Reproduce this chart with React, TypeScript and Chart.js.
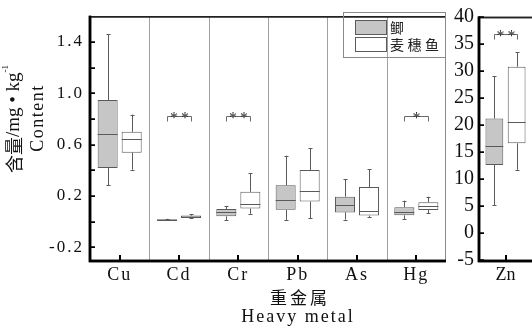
import React, { useEffect, useRef } from "react";
import { Chart, registerables } from "chart.js";

Chart.register(...registerables);

// ---------- data ----------
const metals = ["Cu", "Cd", "Cr", "Pb", "As", "Hg"];
const seriesNames = ["鲫", "麦穗鱼"];

// 鲫 (crucian carp)
const crucianMin = [0.284, 0.008, 0.01, 0.013, 0.015, 0.02];
const crucianQ1 = [0.417, 0.012, 0.04, 0.091, 0.071, 0.048];
const crucianMedian = [0.684, 0.014, 0.074, 0.168, 0.129, 0.076];
const crucianQ3 = [0.947, 0.017, 0.097, 0.282, 0.193, 0.112];
const crucianMax = [1.458, 0.021, 0.122, 0.513, 0.328, 0.162];

// 麦穗鱼 (stone moroko)
const morokoMin = [0.404, 0.026, 0.061, 0.025, 0.036, 0.063];
const morokoQ1 = [0.536, 0.03, 0.101, 0.155, 0.046, 0.089];
const morokoMedian = [0.645, 0.038, 0.137, 0.238, 0.084, 0.117];
const morokoQ3 = [0.699, 0.046, 0.231, 0.402, 0.269, 0.15];
const morokoMax = [0.833, 0.058, 0.376, 0.571, 0.409, 0.193];

const sigMarks = ["", "**", "**", "", "", "*"];
const sigLevel = 0.82;

const leftTickValues = [-0.2, 0, 0.2, 0.4, 0.6, 0.8, 1.0, 1.2, 1.4];
const leftTickLabels = ["-0.2", "", "0.2", "", "0.6", "", "1.0", "", "1.4"];

// Zn panel
const znLabels = ["Zn"];
const znCrucianMin = [5.1];
const znCrucianQ1 = [12.6];
const znCrucianMedian = [16.1];
const znCrucianQ3 = [21.2];
const znCrucianMax = [29.0];
const znMorokoMin = [11.7];
const znMorokoQ1 = [16.6];
const znMorokoMedian = [20.6];
const znMorokoQ3 = [30.8];
const znMorokoMax = [33.5];
const znSigMarks = ["**"];
const znSigLevel = 36.8;
const rightTickValues = [-5, 0, 5, 10, 15, 20, 25, 30, 35, 40];

// ---------- styles ----------
const GRAY_FILL = "#c6c6c6";
const WHITE_FILL = "#ffffff";
const BOX_EDGE = "#5a5a5a";
const SERIF = "'Liberation Serif', 'DejaVu Serif', serif";
const CJK = "'Noto Sans CJK SC', 'Noto Sans', sans-serif";

type Stats = { min: number[]; med: number[]; max: number[]; q1: number[]; q3: number[] };

function half(v: number) {
  return Math.round(v) + 0.5;
}

function drawBoxExtras(chart: any, stats: Stats[], marks: string[], level: number) {
  const ctx = chart.ctx;
  const y = chart.scales.y;
  ctx.save();
  stats.forEach((s, di) => {
    const meta = chart.getDatasetMeta(di);
    meta.data.forEach((el: any, i: number) => {
      const { x, width } = el.getProps(["x", "width"], true);
      const cx = half(x);
      const pMin = y.getPixelForValue(s.min[i]);
      const pMax = y.getPixelForValue(s.max[i]);
      const pQ1 = y.getPixelForValue(s.q1[i]);
      const pQ3 = y.getPixelForValue(s.q3[i]);
      const pMed = y.getPixelForValue(s.med[i]);
      ctx.strokeStyle = BOX_EDGE;
      ctx.lineWidth = 1;
      ctx.beginPath();
      ctx.moveTo(cx, pMax);
      ctx.lineTo(cx, pQ3);
      ctx.moveTo(cx, pQ1);
      ctx.lineTo(cx, pMin);
      ctx.moveTo(cx - 2, half(pMax));
      ctx.lineTo(cx + 2, half(pMax));
      ctx.moveTo(cx - 2, half(pMin));
      ctx.lineTo(cx + 2, half(pMin));
      ctx.stroke();
      ctx.beginPath();
      ctx.moveTo(x - width / 2, half(pMed));
      ctx.lineTo(x + width / 2, half(pMed));
      ctx.stroke();
    });
  });
  // significance brackets
  const m0 = chart.getDatasetMeta(0);
  const m1 = chart.getDatasetMeta(1);
  marks.forEach((mk, i) => {
    if (!mk) return;
    const x1 = half(m0.data[i].x);
    const x2 = half(m1.data[i].x);
    const py = half(y.getPixelForValue(level));
    ctx.strokeStyle = "#6a6a6a";
    ctx.lineWidth = 1;
    ctx.beginPath();
    ctx.moveTo(x1, py + 5);
    ctx.lineTo(x1, py);
    ctx.lineTo(x2, py);
    ctx.lineTo(x2, py + 5);
    ctx.stroke();
    ctx.fillStyle = "#333";
    ctx.font = `16px ${SERIF}`;
    (ctx as any).letterSpacing = "3px";
    ctx.textAlign = "center";
    ctx.textBaseline = "alphabetic";
    ctx.fillText(mk, (x1 + x2) / 2 + 1.5, py + 6);
    (ctx as any).letterSpacing = "0px";
  });
  ctx.restore();
}

function drawFrame(chart: any, opts: { separators: boolean; rightBorder: boolean }) {
  const ctx = chart.ctx;
  const { left, right, top, bottom } = chart.chartArea;
  const xs = chart.scales.x;
  const ys = chart.scales.y;
  ctx.save();
  const n = chart.data.labels.length;
  if (opts.separators) {
    ctx.strokeStyle = "#a0a0a0";
    ctx.lineWidth = 1;
    for (let i = 1; i < n; i++) {
      const sx = half((xs.getPixelForValue(i - 1) + xs.getPixelForValue(i)) / 2);
      ctx.beginPath();
      ctx.moveTo(sx, top);
      ctx.lineTo(sx, bottom);
      ctx.stroke();
    }
  }
  if (opts.rightBorder) {
    ctx.strokeStyle = "#8a8a8a";
    ctx.lineWidth = 1;
    ctx.beginPath();
    ctx.moveTo(right - 0.5, top);
    ctx.lineTo(right - 0.5, bottom);
    ctx.stroke();
  }
  // top border
  ctx.strokeStyle = "#222";
  ctx.lineWidth = 1.5;
  ctx.beginPath();
  ctx.moveTo(left, top + 0.5);
  ctx.lineTo(right, top + 0.5);
  ctx.stroke();
  // left & bottom axes
  ctx.strokeStyle = "#000";
  ctx.lineWidth = 2.5;
  ctx.beginPath();
  ctx.moveTo(left, top - 0.5);
  ctx.lineTo(left, bottom + 1);
  ctx.lineTo(right, bottom + 1);
  ctx.stroke();
  // inward ticks on y
  ctx.lineWidth = 1.5;
  ys.ticks.forEach((t: any) => {
    const py = Math.round(ys.getPixelForValue(t.value)) + 0.25;
    ctx.beginPath();
    ctx.moveTo(left, py);
    ctx.lineTo(left + 5, py);
    ctx.stroke();
  });
  // inward ticks on x
  ctx.lineWidth = 2;
  for (let i = 0; i < n; i++) {
    const px = Math.round(xs.getPixelForValue(i));
    ctx.beginPath();
    ctx.moveTo(px, bottom);
    ctx.lineTo(px, bottom - 5);
    ctx.stroke();
  }
  ctx.restore();
}

function drawLegendAndTitles(chart: any) {
  const ctx = chart.ctx;
  ctx.save();
  (ctx as any).letterSpacing = "0px";
  // legend frame
  ctx.strokeStyle = "#8a8a8a";
  ctx.lineWidth = 1;
  ctx.strokeRect(343.5, 12.5, 102, 45);
  const ds = chart.data.datasets;
  const rows = [20.5, 37.5];
  ds.forEach((d: any, i: number) => {
    ctx.fillStyle = d.backgroundColor;
    ctx.fillRect(355.5, rows[i], 31, 14);
    ctx.strokeStyle = BOX_EDGE;
    ctx.strokeRect(355.5, rows[i], 31, 14);
    ctx.fillStyle = "#222";
    ctx.font = `14px ${CJK}`;
    (ctx as any).letterSpacing = "3.5px";
    ctx.textAlign = "left";
    ctx.textBaseline = "middle";
    ctx.fillText(d.label, 390, rows[i] + 7.5);
  });
  (ctx as any).letterSpacing = "0px";

  // x axis titles
  ctx.fillStyle = "#111";
  ctx.textAlign = "center";
  ctx.textBaseline = "middle";
  ctx.font = `17px ${CJK}`;
  (ctx as any).letterSpacing = "3px";
  ctx.fillText("重金属", 300, 298);
  ctx.font = `18px ${SERIF}`;
  (ctx as any).letterSpacing = "2px";
  ctx.fillText("Heavy metal", 298, 317);
  (ctx as any).letterSpacing = "0px";

  // y axis titles (rotated)
  ctx.save();
  ctx.translate(14, 119);
  ctx.rotate(-Math.PI / 2);
  const partA = "含量";
  const partB = "/mg • kg";
  const partC = "-1";
  ctx.font = `18px ${CJK}`;
  const wA = ctx.measureText(partA).width;
  ctx.font = `19px ${SERIF}`;
  const wB = ctx.measureText(partB).width;
  ctx.font = `9px ${SERIF}`;
  const wC = ctx.measureText(partC).width;
  let sx = -(wA + wB + wC) / 2;
  ctx.textAlign = "left";
  ctx.textBaseline = "middle";
  ctx.font = `18px ${CJK}`;
  ctx.fillText(partA, sx, 0);
  sx += wA;
  ctx.font = `19px ${SERIF}`;
  ctx.fillText(partB, sx, 0);
  sx += wB;
  ctx.font = `9px ${SERIF}`;
  ctx.fillText(partC, sx, -8);
  ctx.restore();

  ctx.save();
  ctx.translate(38, 118);
  ctx.rotate(-Math.PI / 2);
  ctx.textAlign = "center";
  ctx.textBaseline = "middle";
  ctx.font = `18px ${SERIF}`;
  (ctx as any).letterSpacing = "1.5px";
  ctx.fillText("Content", 0, 0);
  ctx.restore();

  ctx.restore();
}

function makeConfig(opts: {
  labels: string[];
  stats: Stats[];
  marks: string[];
  level: number;
  yMin: number;
  yMax: number;
  tickValues: number[];
  tickLabels: (string | number)[];
  yWidth: number;
  padRight: number;
  catPct: number;
  barPct: number;
  yPad: number;
  yFont: number;
  spacing: string;
  main: boolean;
}): any {
  const fills = [GRAY_FILL, WHITE_FILL];
  return {
    type: "bar",
    data: {
      labels: opts.labels,
      datasets: opts.stats.map((s, i) => ({
        label: seriesNames[i],
        data: s.q1.map((q, j) => [q, s.q3[j]]),
        backgroundColor: fills[i],
        borderColor: BOX_EDGE,
        borderWidth: 1,
        borderSkipped: false,
        categoryPercentage: opts.catPct,
        barPercentage: opts.barPct,
      })),
    },
    options: {
      responsive: false,
      animation: false,
      devicePixelRatio: 1,
      layout: { padding: { top: 12, left: 0, right: opts.padRight, bottom: 0 } },
      plugins: { legend: { display: false }, tooltip: { enabled: false } },
      scales: {
        x: {
          grid: { display: false, drawTicks: false },
          border: { display: false },
          ticks: { font: { family: SERIF, size: 18 }, color: "#111", padding: 4 },
          afterFit: (s: any) => {
            s.height = 68;
          },
        },
        y: {
          min: opts.yMin,
          max: opts.yMax,
          grid: { display: false, drawTicks: false },
          border: { display: false },
          afterBuildTicks: (s: any) => {
            s.ticks = opts.tickValues.map((v) => ({ value: v }));
          },
          ticks: {
            font: { family: SERIF, size: opts.yFont },
            color: "#111",
            padding: opts.yPad,
            autoSkip: false,
            callback: (_v: any, idx: number) => String(opts.tickLabels[idx]),
          },
          afterFit: (s: any) => {
            s.width = opts.yWidth;
          },
        },
      },
    },
    plugins: [
      {
        id: "boxExtras",
        beforeDraw(chart: any) {
          (chart.ctx as any).letterSpacing = opts.spacing;
        },
        beforeDatasetsDraw(chart: any) {
          drawFrame(chart, { separators: opts.main, rightBorder: opts.main });
        },
        afterDatasetsDraw(chart: any) {
          drawBoxExtras(chart, opts.stats, opts.marks, opts.level);
        },
        afterDraw(chart: any) {
          drawFrame(chart, { separators: false, rightBorder: false });
          if (opts.main) drawLegendAndTitles(chart);
        },
      },
    ],
  };
}

export default function App() {
  const leftRef = useRef<HTMLCanvasElement>(null);
  const rightRef = useRef<HTMLCanvasElement>(null);

  useEffect(() => {
    const left = new Chart(
      leftRef.current as HTMLCanvasElement,
      makeConfig({
        labels: metals,
        stats: [
          { min: crucianMin, q1: crucianQ1, med: crucianMedian, q3: crucianQ3, max: crucianMax },
          { min: morokoMin, q1: morokoQ1, med: morokoMedian, q3: morokoQ3, max: morokoMax },
        ],
        marks: sigMarks,
        level: sigLevel,
        yMin: -0.3,
        yMax: 1.6,
        tickValues: leftTickValues,
        tickLabels: leftTickLabels,
        yWidth: 90,
        padRight: 4,
        catPct: 0.81,
        barPct: 0.833,
        yPad: 6,
        yFont: 17,
        spacing: "2px",
        main: true,
      })
    );
    const right = new Chart(
      rightRef.current as HTMLCanvasElement,
      makeConfig({
        labels: znLabels,
        stats: [
          { min: znCrucianMin, q1: znCrucianQ1, med: znCrucianMedian, q3: znCrucianQ3, max: znCrucianMax },
          { min: znMorokoMin, q1: znMorokoQ1, med: znMorokoMedian, q3: znMorokoQ3, max: znMorokoMax },
        ],
        marks: znSigMarks,
        level: znSigLevel,
        yMin: -5,
        yMax: 40,
        tickValues: rightTickValues,
        tickLabels: rightTickValues,
        yWidth: 39,
        padRight: 0,
        catPct: 0.84,
        barPct: 0.8,
        yPad: 5,
        yFont: 20,
        spacing: "0px",
        main: false,
      })
    );
    return () => {
      left.destroy();
      right.destroy();
    };
  }, []);

  return (
    <div
      style={{
        position: "fixed",
        left: 0,
        top: 0,
        width: 532,
        height: 328,
        overflow: "hidden",
        background: "#fff",
      }}
    >
      <canvas
        ref={leftRef}
        width={450}
        height={328}
        style={{ position: "absolute", left: 0, top: 0, width: 450, height: 328 }}
      />
      <canvas
        ref={rightRef}
        width={92}
        height={328}
        style={{ position: "absolute", left: 440, top: 0, width: 92, height: 328 }}
      />
    </div>
  );
}
